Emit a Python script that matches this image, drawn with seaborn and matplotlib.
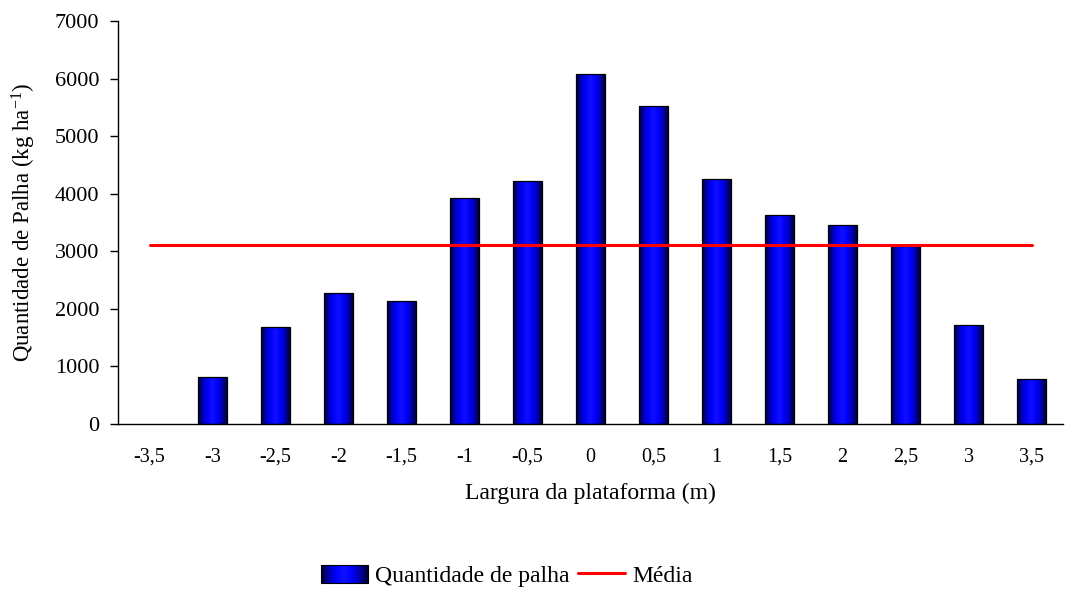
import numpy as np
import matplotlib
matplotlib.use("Agg")
import matplotlib.pyplot as plt
import seaborn as sns
from matplotlib.colors import LinearSegmentedColormap
from matplotlib.legend_handler import HandlerBase
from matplotlib.patches import Rectangle
from matplotlib.lines import Line2D

# Straw amount across the platform width
positions = ["-3,5", "-3", "-2,5", "-2", "-1,5", "-1", "-0,5", "0",
             "0,5", "1", "1,5", "2", "2,5", "3", "3,5"]
straw = [0, 820, 1680, 2280, 2140, 3920, 4220, 6080,
         5530, 4250, 3630, 3460, 3100, 1720, 780]
y_ticks = [0, 1000, 2000, 3000, 4000, 5000, 6000, 7000]

# mean over the measured positions (the first position has no sample)
measured = [v for v in straw if v > 0]
mean_val = float(np.mean(measured))

sns.set_theme(style="white")
plt.rcParams["font.family"] = ["Liberation Serif", "DejaVu Serif"]
plt.rcParams["mathtext.fontset"] = "custom"
plt.rcParams["mathtext.rm"] = "Liberation Serif"
plt.rcParams["mathtext.it"] = "Liberation Serif:italic"
for key in ["text.color", "axes.labelcolor", "xtick.color", "ytick.color"]:
    plt.rcParams[key] = "black"

fig = plt.figure(figsize=(10.69, 5.93), dpi=100)
ax = fig.add_axes([0.1104, 0.285, 0.884, 0.6796])

sns.barplot(x=positions, y=straw, order=positions, color="#0000ff",
            width=0.45, edgecolor="black", linewidth=0.9, ax=ax, zorder=2)

# horizontal shading inside each bar: dark edges, bright blue centre
cmap = LinearSegmentedColormap.from_list(
    "bar_shade", ["#00003a", "#0000b0", "#0000ff", "#1010ff", "#0000ff", "#0000b0", "#00003a"])
grad = np.linspace(0, 1, 256).reshape(1, -1)
for p in ax.patches:
    h = p.get_height()
    if h <= 0:
        p.set_visible(False)
        continue
    x0, w = p.get_x(), p.get_width()
    im = ax.imshow(grad, cmap=cmap, aspect="auto", extent=[x0, x0 + w, 0, h],
                   zorder=2.5, interpolation="bicubic")
    im.set_clip_path(p)
    p.set_facecolor("none")
    p.set_zorder(3)

ax.plot([0, len(positions) - 1], [mean_val, mean_val], color="#ff0000",
        linewidth=2.2, zorder=4)

ax.set_xlim(-0.5, len(positions) - 0.5)
ax.set_ylim(0, 7000)
ax.set_yticks(y_ticks)
ax.set_yticklabels([str(t) for t in y_ticks], fontsize=16)

# category labels at centres, tick marks between categories
ax.set_xticks(range(len(positions)))
ax.set_xticklabels(positions, fontsize=14.5)
ax.tick_params(axis="x", length=0, pad=17)
ax.set_xticks(np.arange(-0.5, len(positions), 1.0), minor=True)
ax.tick_params(axis="x", which="minor", length=5, width=1, color="black", direction="out")
ax.tick_params(axis="y", length=6, width=1, color="black", direction="out", left=True, pad=7.5)

for side in ["top", "right"]:
    ax.spines[side].set_visible(False)
for side in ["left", "bottom"]:
    ax.spines[side].set_color("black")
    ax.spines[side].set_linewidth(1)

ax.set_xlabel("Largura da plataforma (m)", fontsize=17, labelpad=12)
ax.set_ylabel(r"Quantidade de Palha (kg ha$^{-1}$)", fontsize=16.5, labelpad=12)
ax.grid(False)


class ShadedBarHandler(HandlerBase):
    def create_artists(self, legend, orig_handle, xdescent, ydescent,
                       width, height, fontsize, trans):
        artists = []
        n = 24
        cols = cmap(np.linspace(0, 1, n))
        for i in range(n):
            r = Rectangle((-xdescent + i * width / n, -ydescent), width / n + 0.3, height,
                          facecolor=cols[i], edgecolor="none", transform=trans)
            artists.append(r)
        artists.append(Rectangle((-xdescent, -ydescent), width, height,
                                 facecolor="none", edgecolor="black", linewidth=0.8,
                                 transform=trans))
        return artists


bar_handle = Rectangle((0, 0), 1, 1)
line_handle = Line2D([], [], color="#ff0000", linewidth=2.2)
fig.legend([bar_handle, line_handle], ["Quantidade de palha", "Média"],
           handler_map={bar_handle: ShadedBarHandler()},
           loc="center", bbox_to_anchor=(0.4738, 0.029), ncol=2, frameon=False,
           fontsize=17, handlelength=2.0, handleheight=0.8, columnspacing=0.35,
           handletextpad=0.3)

fig.savefig("out.png", dpi=100)
